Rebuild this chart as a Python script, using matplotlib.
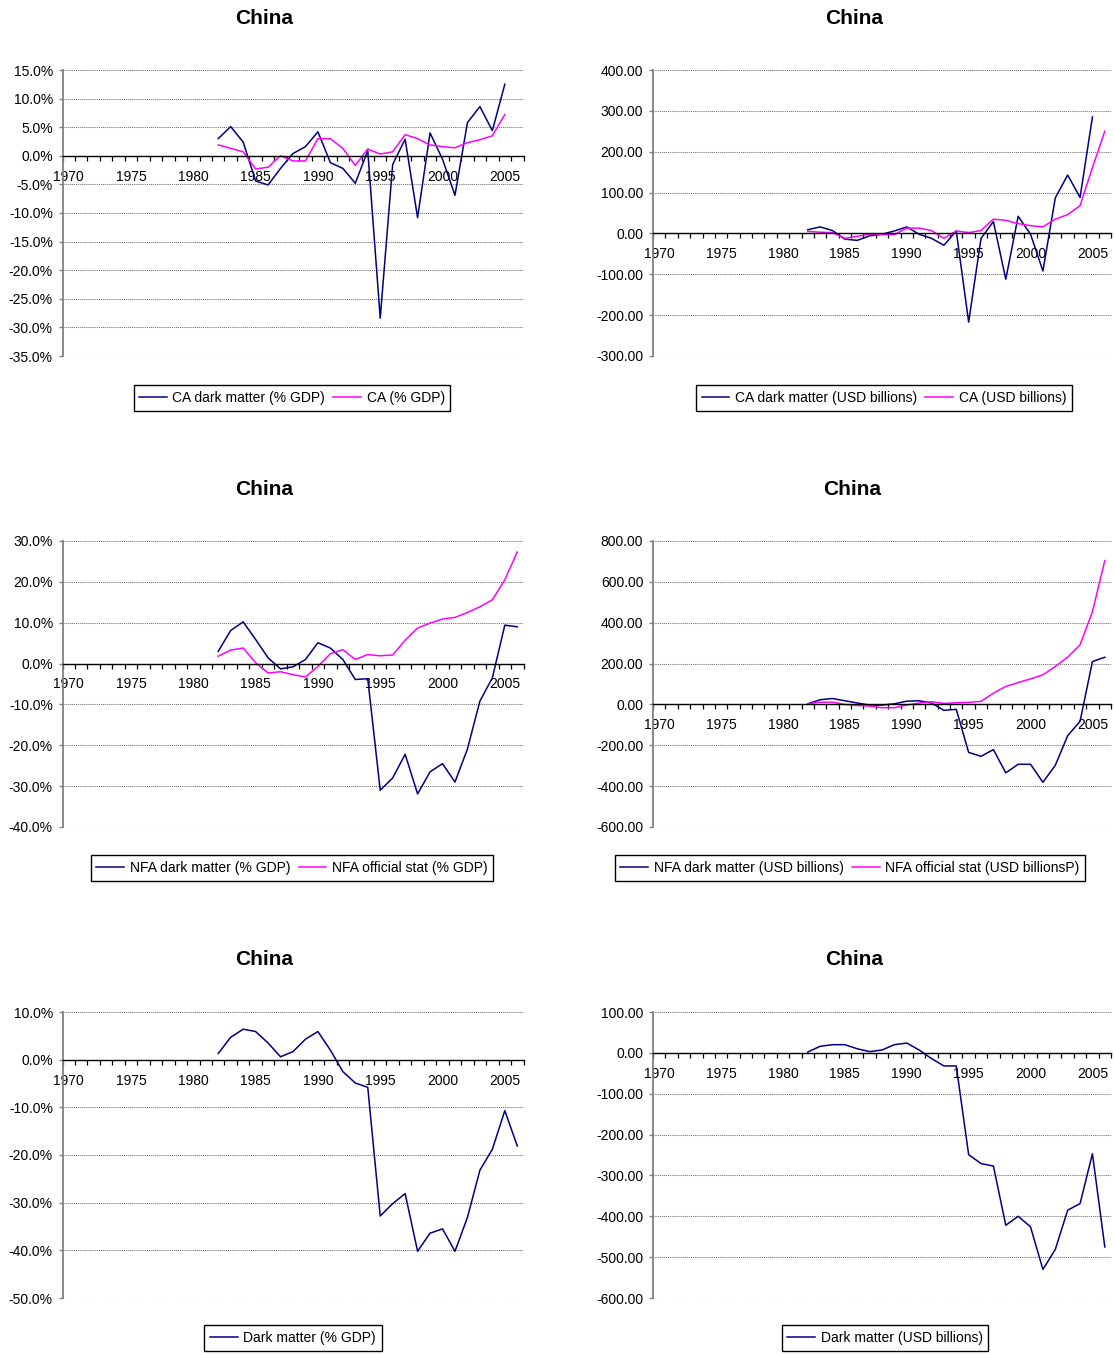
import matplotlib
matplotlib.use("Agg")
import matplotlib.pyplot as plt
import numpy as np
from matplotlib.ticker import FuncFormatter

plt.rcParams["font.family"] = ["Liberation Sans", "DejaVu Sans"]

# ---------------------------------------------------------------- data
years_to_2005 = list(range(1982, 2006))
years_to_2006 = list(range(1982, 2007))

# Current account, % of GDP (1982-2005)
ca_dark_pct = [3.0, 5.1, 2.4, -4.4, -5.1, -2.2, 0.4, 1.6, 4.2, -1.2, -2.2, -4.8,
               0.9, -28.4, -1.5, 2.9, -10.8, 4.0, -0.6, -6.9, 5.8, 8.6, 4.4, 12.5]
ca_pct = [1.9, 1.3, 0.7, -2.3, -2.0, 0.0, -0.9, -0.9, 3.0, 3.0, 1.3, -1.7,
          1.2, 0.3, 0.7, 3.7, 3.0, 1.9, 1.6, 1.4, 2.3, 2.8, 3.5, 7.2]

# Current account, USD billions
ca_dark_usd = [9, 16, 7, -14, -17, -6, -2, 6, 16, -2, -12, -29,
               6, -217, -12, 29, -112, 42, -2, -92, 87, 143, 88, 285]
ca_usd = [5, 3, 2, -12, -7, -2, -3, -3, 13, 13, 7, -12,
          6, 2, 7, 35, 32, 24, 19, 16, 35, 46, 68, 161, 250]

# Net foreign assets, % of GDP (1982-2006)
nfa_dark_pct = [3.0, 8.1, 10.2, 5.9, 1.4, -1.3, -0.8, 1.0, 5.1, 3.8, 1.0, -3.9,
                -3.7, -31.0, -28.0, -22.2, -31.9, -26.5, -24.5, -29.0, -20.9,
                -9.2, -3.5, 9.4, 9.0]
nfa_official_pct = [1.8, 3.3, 3.8, 0.2, -2.3, -2.0, -2.7, -3.3, -0.7, 2.4, 3.4, 1.0,
                    2.2, 1.9, 2.1, 5.7, 8.7, 9.9, 10.9, 11.3, 12.5, 13.9, 15.6,
                    20.5, 27.3]

# Net foreign assets, USD billions (1982-2006)
nfa_dark_usd = [3, 23, 29, 18, 7, -3, -3, 3, 16, 18, 7, -29,
                -24, -235, -254, -221, -335, -293, -293, -381, -298, -153, -83,
                210, 231]
nfa_official_usd = [3, 11, 11, 0, -5, -8, -16, -16, -3, 7, 13, 5,
                    8, 10, 15, 55, 88, 107, 125, 145, 186, 231, 292, 454, 704]

# Cumulative dark matter (1982-2006)
dark_pct = [1.3, 4.7, 6.4, 5.9, 3.5, 0.6, 1.7, 4.3, 5.9, 2.0, -2.5, -4.9,
            -5.8, -32.8, -30.2, -28.1, -40.2, -36.4, -35.5, -40.2, -33.1,
            -23.2, -18.8, -10.7, -18.1]
dark_usd = [2, 16, 20, 20, 10, 3, 7, 20, 24, 7, -14, -32,
            -32, -249, -271, -277, -422, -400, -426, -530, -481, -385, -369,
            -247, -475]

category_years = list(range(1970, 2007))
label_years = list(range(1970, 2006, 5))

# ---------------------------------------------------------------- styling
NAVY = "#000080"
MAGENTA = "#FF00FF"
W, H = 1114, 1355

fig = plt.figure(figsize=(W / 100, H / 100), dpi=100)


def make_axes(x0, y0, w, h):
    return fig.add_axes([x0 / W, 1 - (y0 + h) / H, w / W, h / H])


def style_axes(ax, ylim, ystep, fmt):
    ax.set_xlim(category_years[0] - 0.5, category_years[-1] + 0.5)
    ax.set_ylim(*ylim)
    ax.set_yticks(np.arange(ylim[0], ylim[1] + ystep / 2, ystep))
    ax.yaxis.set_major_formatter(FuncFormatter(fmt))
    for side in ("top", "right"):
        ax.spines[side].set_visible(False)
    ax.spines["bottom"].set_position(("data", 0))
    ax.spines["bottom"].set_color("black")
    ax.spines["bottom"].set_linewidth(1.0)
    ax.spines["bottom"].set_zorder(4)
    ax.spines["left"].set_color("#808080")
    ax.spines["left"].set_linewidth(1.3)

    bounds = np.arange(category_years[0] - 0.5, category_years[-1] + 1.0, 1.0)
    ax.set_xticks(bounds)
    ax.set_xticklabels([])
    ax.set_xticks(label_years, minor=True)
    ax.set_xticklabels([str(y) for y in label_years], minor=True)
    ax.tick_params(axis="x", which="major", length=3.5, width=0.9,
                   direction="out", color="black")
    ax.tick_params(axis="x", which="minor", length=0, pad=10, labelsize=10)
    ax.tick_params(axis="y", length=3, width=1.0, color="#808080",
                   direction="out", pad=4, labelsize=10)

    ax.yaxis.grid(True, color="#6e6e6e", linestyle=(0, (1, 1)), linewidth=0.75)
    ax.set_axisbelow(True)
    for lbl in ax.get_xticklabels(minor=True):
        lbl.set_zorder(5)


def pct_fmt(v, _):
    return f"{v:.1f}%"


def usd_fmt(v, _):
    return f"{v:.2f}"


def add_title(cx, cy):
    fig.text(cx / W, 1 - cy / H, "China", ha="center", va="center",
             fontsize=15, fontweight="bold")


def add_legend(ax, cx, cy):
    leg = ax.legend(loc="center", bbox_to_anchor=(cx / W, 1 - cy / H),
                    bbox_transform=fig.transFigure, ncol=2, fontsize=10,
                    frameon=True, fancybox=False, framealpha=1,
                    edgecolor="black", handlelength=2.0, handletextpad=0.4,
                    columnspacing=0.6, borderpad=0.4, borderaxespad=0)
    leg.get_frame().set_linewidth(1.0)


LW = 1.1
LEFT_X, LEFT_W = 62.5, 461
RIGHT_X, RIGHT_W = 653, 458
ROWS = [70, 541, 1012]
PH = 286

# ---------------------------------------------------------------- row 1
ax = make_axes(LEFT_X, ROWS[0], LEFT_W, PH)
style_axes(ax, (-35, 15), 5, pct_fmt)
ax.plot(years_to_2005, ca_dark_pct, color=NAVY, lw=LW, label="CA dark matter (% GDP)")
ax.plot(years_to_2005, ca_pct, color=MAGENTA, lw=LW, label="CA (% GDP)")
add_title(264, 18.5)
add_legend(ax, 292, 398)

ax = make_axes(RIGHT_X, ROWS[0], RIGHT_W, PH)
style_axes(ax, (-300, 400), 100, usd_fmt)
ax.plot(years_to_2005, ca_dark_usd, color=NAVY, lw=LW, label="CA dark matter (USD billions)")
ax.plot(years_to_2006, ca_usd, color=MAGENTA, lw=LW, label="CA (USD billions)")
add_title(854, 18.5)
add_legend(ax, 884, 398)

# ---------------------------------------------------------------- row 2
ax = make_axes(LEFT_X, ROWS[1], LEFT_W, PH)
style_axes(ax, (-40, 30), 10, pct_fmt)
ax.plot(years_to_2006, nfa_dark_pct, color=NAVY, lw=LW, label="NFA dark matter (% GDP)")
ax.plot(years_to_2006, nfa_official_pct, color=MAGENTA, lw=LW, label="NFA official stat (% GDP)")
add_title(264, 489.5)
add_legend(ax, 292, 868)

ax = make_axes(RIGHT_X, ROWS[1], RIGHT_W, PH)
style_axes(ax, (-600, 800), 200, usd_fmt)
ax.plot(years_to_2006, nfa_dark_usd, color=NAVY, lw=LW, label="NFA dark matter (USD billions)")
ax.plot(years_to_2006, nfa_official_usd, color=MAGENTA, lw=LW, label="NFA official stat (USD billionsP)")
add_title(852, 489.5)
add_legend(ax, 850, 868)

# ---------------------------------------------------------------- row 3
ax = make_axes(LEFT_X, ROWS[2], LEFT_W, PH)
style_axes(ax, (-50, 10), 10, pct_fmt)
ax.plot(years_to_2006, dark_pct, color=NAVY, lw=LW, label="Dark matter (% GDP)")
add_title(264, 959.5)
add_legend(ax, 293, 1338)

ax = make_axes(RIGHT_X, ROWS[2], RIGHT_W, PH)
style_axes(ax, (-600, 100), 100, usd_fmt)
ax.plot(years_to_2006, dark_usd, color=NAVY, lw=LW, label="Dark matter (USD billions)")
add_title(854, 959.5)
add_legend(ax, 885, 1338)

fig.savefig("out.png", dpi=100, facecolor="white")
